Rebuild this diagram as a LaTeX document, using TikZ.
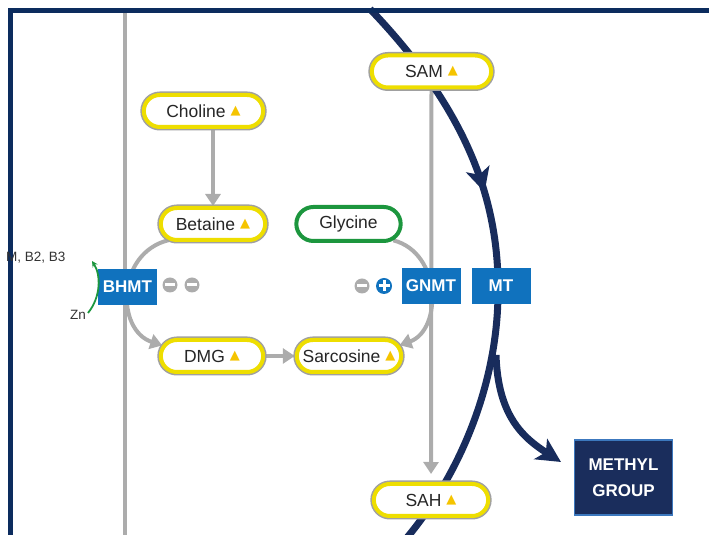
\documentclass[tikz,border=0pt]{standalone}
\usepackage{fontspec}
\setmainfont{Liberation Sans}
\newfontfamily\symfont{DejaVu Sans}
\usetikzlibrary{shapes.misc,arrows.meta,decorations.markings,backgrounds}
\definecolor{framenavy}{RGB}{12,44,94}
\definecolor{curvenavy}{RGB}{24,44,92}
\definecolor{enzblue}{RGB}{16,114,190}
\definecolor{ringyellow}{RGB}{238,222,0}
\definecolor{ringgray}{RGB}{160,160,160}
\definecolor{triyellow}{RGB}{245,196,0}
\definecolor{linegray}{RGB}{172,172,172}
\definecolor{glygreen}{RGB}{28,150,62}
\definecolor{methylnavy}{RGB}{26,45,92}
\definecolor{methylborder}{RGB}{60,120,190}
\newcommand{\uptri}{\hspace{5pt}\raisebox{3pt}{\fontsize{13}{13}\selectfont\symfont\textcolor{triyellow}{▲}}}
\tikzset{
    metabolite/.style={rounded rectangle, fill=white, draw=ringyellow, line width=4pt,
        preaction={draw=ringgray, line width=7pt}, minimum height=32pt,
        text=black!85, font=\fontsize{17.5}{19}\selectfont},
    glycinebox/.style={rounded rectangle, fill=white, draw=glygreen, line width=4pt,
        minimum height=34pt, minimum width=111pt, text=black!85, font=\fontsize{17.5}{19}\selectfont},
    enzyme/.style={rectangle, fill=enzblue, text=white, minimum width=59pt, minimum height=36pt,
        inner sep=0pt, font=\fontsize{17}{18}\selectfont\bfseries},
    methylbox/.style={rectangle, fill=methylnavy, draw=methylborder, line width=1.5pt, text=white,
        minimum width=98pt, minimum height=75pt, align=center, font=\fontsize{17}{26}\selectfont\bfseries},
    cofactor/.style={text=black!80, inner sep=0pt, font=\fontsize{13.5}{15}\selectfont},
    rail/.style={draw=linegray, line width=4pt},
    flow/.style={draw=linegray, line width=4pt, -{Triangle[length=12pt,width=15pt]}},
    navyline/.style={draw=curvenavy, line width=7pt},
    midarrow/.style={postaction={decorate, decoration={markings,
        mark=at position #1 with {\arrow{Stealth[length=24pt,width=24pt,inset=6pt]}}}}},
    minuspic/.pic={\fill[linegray] (0,0) circle (7.5); \fill[white] (-5,-1.5) rectangle (5,1.5);},
    pluspic/.pic={\fill[enzblue] (0,0) circle (8); \fill[white] (-5.5,-1.5) rectangle (5.5,1.5);
        \fill[white] (-1.5,-5.5) rectangle (1.5,5.5);}
}
\begin{document}
\begin{tikzpicture}[x=1pt,y=1pt]
\useasboundingbox (0,0) rectangle (709,535);

\node[metabolite, minimum width=126pt] (choline) at (203.5,424) {Choline\uptri};
\node[metabolite, minimum width=111pt] (betaine) at (213,311) {Betaine\uptri};
\node[glycinebox] (glycine) at (348.5,311) {Glycine};
\node[metabolite, minimum width=109pt] (dmg) at (212,179) {DMG\uptri};
\node[metabolite, minimum width=111pt] (sarcosine) at (349,179) {Sarcosine\uptri};
\node[metabolite, minimum width=126pt] (sam) at (431.5,463.5) {SAM\uptri};
\node[metabolite, minimum width=121pt] (sah) at (431,35) {SAH\uptri};

\node[enzyme] (bhmt) at (127.5,248) {BHMT};
\node[enzyme] (gnmt) at (431,249) {GNMT};
\node[enzyme] (mt) at (501,249) {MT};
\node[methylbox] (methyl) at (623.5,57.5) {METHYL\\GROUP};

\pic at (170,250) {minuspic};
\pic at (192,250) {minuspic};
\pic at (362,249) {minuspic};
\pic at (384,249) {pluspic};

\begin{pgfonlayer}{background}
\draw[rail] (125,522) -- (125,0);
\draw[flow] (betaine.north |- choline.south) -- (betaine.north);
\draw[flow] (betaine.200) .. controls (116,282) and (116,205) .. (dmg.168);
\draw[flow] (glycine.340) .. controls (442,282) and (442,205) .. (sarcosine.12);
\draw[flow] (dmg.east) -- (sarcosine.west);
\draw[flow, shorten >=8pt] (sam.south) -- (sah.north);
\draw[navyline, midarrow=0.37] (370,526) .. controls (462,430) and (500,340) .. (498,240)
    .. controls (497,150) and (460,60) .. (405,-5);
\draw[navyline, -{Stealth[length=24pt,width=24pt,inset=6pt]}] (496,180) .. controls (498,120) and (522,98) .. (561,73);
\end{pgfonlayer}

\draw[framenavy, line width=5pt] (10,0) -- (10,524) -- (709,524);

\node[cofactor, anchor=west] (cofs) at (6,277) {M, B2, B3};
\node[cofactor] (zn) at (78,220) {Zn};
\coordinate (arcstart) at (88,222);
\coordinate (arcend) at (92,274);
\draw[glygreen, line width=1.8pt, -{Stealth[length=6pt,width=6pt]}] (arcstart) .. controls (101,238) and (101,260) .. (arcend);
\end{tikzpicture}
\end{document}
